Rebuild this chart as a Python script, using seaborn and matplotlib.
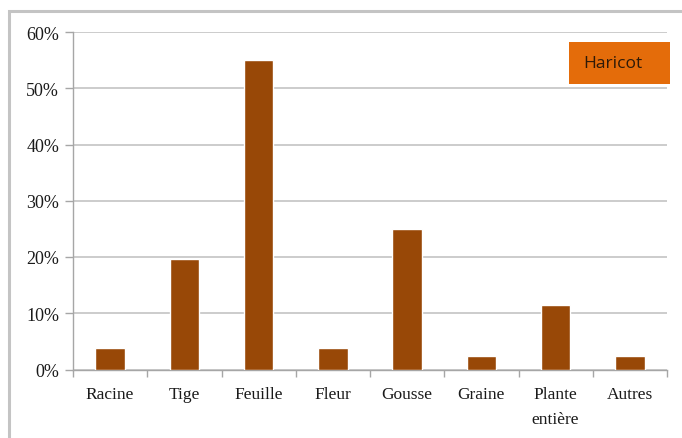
import matplotlib
matplotlib.use("Agg")
import matplotlib.pyplot as plt
from matplotlib.patches import Rectangle
from matplotlib.ticker import PercentFormatter, FixedLocator
import seaborn as sns
import pandas as pd

# Share of bean damage by plant part (%)
categories = ["Racine", "Tige", "Feuille", "Fleur", "Gousse", "Graine",
              "Plante\nentière", "Autres"]
values = [3.8, 19.7, 55.0, 3.8, 25.0, 2.4, 11.5, 2.4]
series_name = "Haricot"
y_ticks = [0, 10, 20, 30, 40, 50, 60]

df = pd.DataFrame({"partie": categories, "part": values})

sns.set_theme(style="white")
serif = ["Liberation Serif", "DejaVu Serif"]
plt.rcParams["font.family"] = serif

W, H = 682, 439
fig = plt.figure(figsize=(W / 100, H / 100), dpi=100)
fig.patch.set_facecolor("white")

# outer chart frame (runs off the right and bottom edges)
fig.patches.append(Rectangle((9 / W, -0.05), 1.2, (H - 12) / H + 0.05,
                             transform=fig.transFigure, fill=False,
                             edgecolor="#c4c4c4", linewidth=2.2))

ax = fig.add_axes([73 / W, (H - 370.5) / H, 594 / W, 337.5 / H])

bar_color = "#984807"
sns.barplot(data=df, x="partie", y="part", color=bar_color, width=0.4,
            saturation=1, ax=ax, zorder=3)

ax.set_xlim(-0.5, len(categories) - 0.5)
ax.set_ylim(0, 60)
ax.set_yticks(y_ticks)
ax.yaxis.set_major_formatter(PercentFormatter(decimals=0))
ax.set_xlabel("")
ax.set_ylabel("")

# horizontal gridlines
ax.grid(axis="y", color="#c8c8c8", linewidth=1.3, zorder=0)
ax.grid(axis="x", visible=False)
ax.set_axisbelow(True)

for side in ["top", "right"]:
    ax.spines[side].set_visible(False)
for side in ["left", "bottom"]:
    ax.spines[side].set_color("#a6a6a6")
    ax.spines[side].set_linewidth(1.0)

# x ticks: labels centred on bars, tick marks at category boundaries
ax.tick_params(axis="x", which="major", length=0, pad=12,
               labelsize=12.5, labelcolor="#1a1a1a")
for lbl in ax.get_xticklabels():
    lbl.set_linespacing(1.75)
    lbl.set_family(serif)
ax.xaxis.set_minor_locator(FixedLocator([i - 0.5 for i in range(len(categories) + 1)]))
ax.tick_params(axis="x", which="minor", bottom=True, length=5,
               width=1.0, color="#a6a6a6", direction="out")
ax.tick_params(axis="y", left=True, length=6, width=1.0, color="#a6a6a6",
               direction="out", pad=4, labelsize=13, labelcolor="#1a1a1a")
for lbl in ax.get_yticklabels():
    lbl.set_family(serif)

# series label box
fig.patches.append(Rectangle((569 / W, (H - 85) / H), 101 / W, 42 / H,
                             transform=fig.transFigure, facecolor="#e46c0a",
                             edgecolor="none"))
fig.text(613 / W, (H - 64) / H, series_name, ha="center", va="center",
         fontsize=12.5, color="#2e1a08", family=["Open Sans", "DejaVu Sans"])

fig.savefig("out.png", dpi=100, facecolor="white")
